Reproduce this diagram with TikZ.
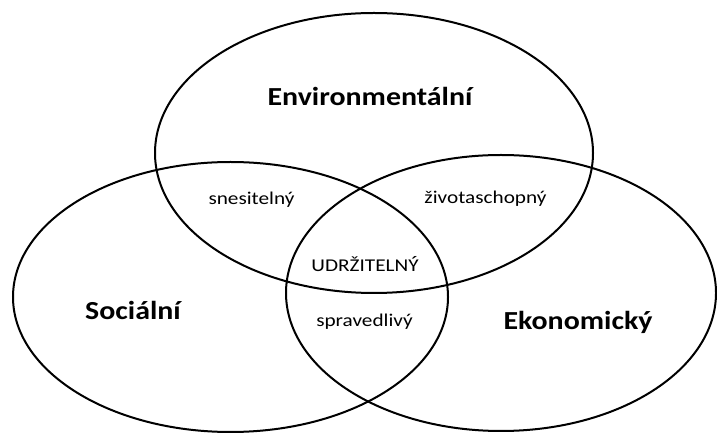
\documentclass[tikz,border=0pt]{standalone}
\usepackage{fontspec}
\setmainfont{Carlito}
\usepackage{tikz}

\tikzset{
  venn/.style={line width=2pt, black},
  bigLabel/.style={font=\fontsize{26}{28}\selectfont\bfseries, xscale=1.15, transform shape, inner sep=0pt},
  smallLabel/.style={font=\fontsize{18}{20}\selectfont, xscale=1.18, transform shape, inner sep=0pt}
}

\begin{document}
\begin{tikzpicture}[x=1pt,y=1pt]
  \useasboundingbox (0,0) rectangle (717,433);

  % the three sets
  \draw[venn] (374,280) ellipse [x radius=219pt, y radius=140pt];
  \draw[venn] (230.5,136) ellipse [x radius=217.5pt, y radius=135pt];
  \draw[venn] (501,140) ellipse [x radius=215pt, y radius=138pt];

  % set names
  \node[bigLabel] (env) at (370,337) {Environmentální};
  \node[bigLabel] (soc) at (133,123) {Sociální};
  \node[bigLabel] (eko) at (578,111) {Ekonomický};

  % overlaps
  \node[smallLabel] (snes) at (251.5,233) {snesitelný};
  \node[smallLabel] (ziv) at (485.5,234) {životaschopný};
  \node[smallLabel] (udr) at (365,169) {UDRŽITELNÝ};
  \node[smallLabel] (sprav) at (364.5,111) {spravedlivý};
\end{tikzpicture}
\end{document}
